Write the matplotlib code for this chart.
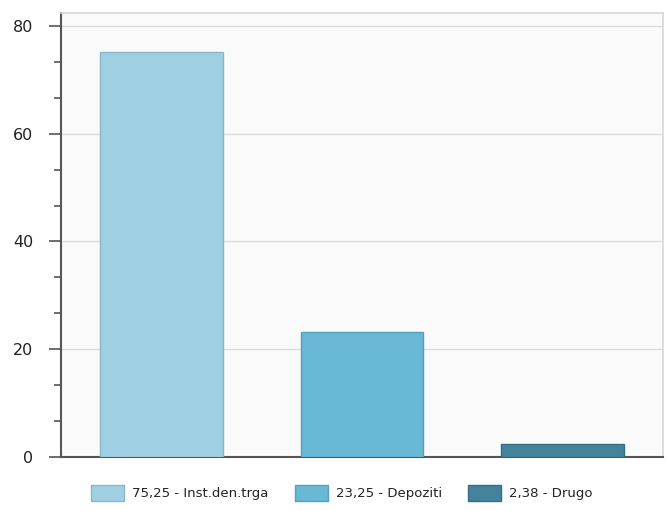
import matplotlib.pyplot as plt
import numpy as np
from matplotlib.patches import Patch
from matplotlib.ticker import MultipleLocator

categories = ['Inst.den.trga', 'Depoziti', 'Drugo']
values = [75.25, 23.25, 2.38]
value_labels = ['75,25', '23,25', '2,38']
colors = ['#9ecfe3', '#68b8d6', '#44839c']
edges = ['#86b8cc', '#559fbd', '#356d84']

fig = plt.figure(figsize=(6.68, 5.11), dpi=100)
ax = fig.add_axes([61/668, 1 - 457/511, 602/668, 444/511])
ax.set_facecolor('#fafafa')

x = np.arange(len(categories))
ax.bar(x, values, width=0.61, color=colors, edgecolor=edges, linewidth=1, zorder=3)

ax.set_xlim(-0.5, 2.5)
ax.set_ylim(0, 82.4)
ax.yaxis.set_major_locator(MultipleLocator(20))
ax.yaxis.set_minor_locator(MultipleLocator(20 / 3))
ax.set_xticks([])
ax.grid(axis='y', color='#dcdcdc', linewidth=1, zorder=0)

ax.tick_params(axis='y', which='major', length=9, width=1.2, color='#555555',
               labelsize=11.5, labelcolor='#222222', pad=11)
ax.tick_params(axis='y', which='minor', length=5, width=1.2, color='#555555')

for side in ['left', 'bottom']:
    ax.spines[side].set_color('#555555')
    ax.spines[side].set_linewidth(1.5)
for side in ['top', 'right']:
    ax.spines[side].set_color('#d8d8d8')
    ax.spines[side].set_linewidth(1.2)

handles = [Patch(facecolor=c, edgecolor=e) for c, e in zip(colors, edges)]
labels = [f'{v} - {c}' for v, c in zip(value_labels, categories)]
fig.legend(handles, labels, loc='center', bbox_to_anchor=(0.512, 1 - 493/511),
           ncol=3, frameon=False, fontsize=9.5, handlelength=2.5, handleheight=1.45,
           handletextpad=0.6, columnspacing=2.0, labelcolor='#222222')

fig.savefig('out.png', dpi=100)
